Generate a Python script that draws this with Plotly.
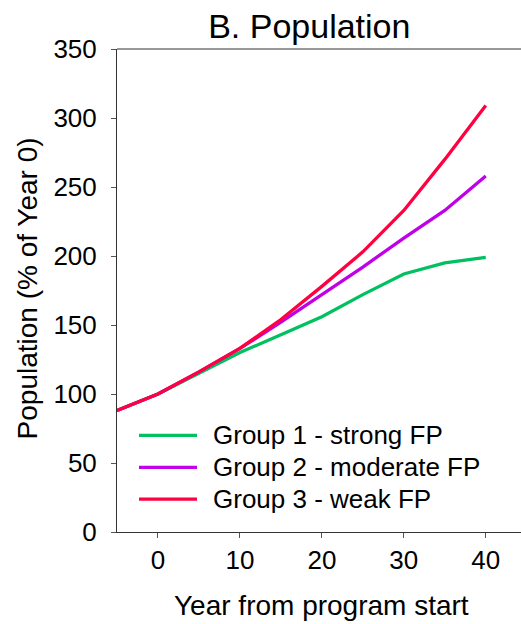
import plotly.graph_objects as go

years = [-5, 0, 5, 10, 15, 20, 25, 30, 35, 40]
group1 = [88, 100, 115, 130, 143, 156, 172, 187, 195, 199]
group2 = [88, 100, 116, 133, 152, 172, 192, 213, 233, 258]
group3 = [88, 100, 116, 133, 154, 178, 203, 233, 270, 309]
names = ["Group 1 - strong FP", "Group 2 - moderate FP", "Group 3 - weak FP"]
colors = ["#00C060", "#C000E8", "#FF0040"]
series = [group1, group2, group3]
y_ticks = [0, 50, 100, 150, 200, 250, 300, 350]
x_ticks = [0, 10, 20, 30, 40]

font_family = "Liberation Sans, Arial, sans-serif"

fig = go.Figure()
for name, vals, col in zip(names, series, colors):
    fig.add_trace(go.Scatter(x=years, y=vals, mode="lines", name=name,
                             line=dict(color=col, width=3.3), showlegend=False))

# manual legend
leg_y = [0.200, 0.134, 0.068]
for name, col, yy in zip(names, colors, leg_y):
    fig.add_shape(type="line", xref="paper", yref="paper",
                  x0=0.0545, x1=0.198, y0=yy, y1=yy,
                  line=dict(color=col, width=3.3))
    fig.add_annotation(xref="paper", yref="paper", x=0.232, y=yy,
                       text=name, showarrow=False, xanchor="left", yanchor="middle",
                       font=dict(size=26, color="black", family=font_family))

# axis titles
fig.add_annotation(xref="paper", yref="paper", x=0.507, y=-0.153,
                   text="Year from program start", showarrow=False,
                   xanchor="center", yanchor="middle",
                   font=dict(size=28, color="black", family=font_family))
fig.add_annotation(xref="paper", yref="paper", x=-0.222, y=0.505,
                   text="Population (% of Year 0)", showarrow=False, textangle=-90,
                   xanchor="center", yanchor="middle",
                   font=dict(size=28, color="black", family=font_family))

fig.update_layout(
    width=521, height=624,
    margin=dict(l=117, r=0, t=49, b=92),
    paper_bgcolor="white", plot_bgcolor="white",
    font=dict(family=font_family, size=26, color="black"),
    title=dict(text="B. Population", x=0.476, xref="paper", xanchor="center",
               y=1 - 26/624, yanchor="middle", font=dict(size=34, color="black")),
)
fig.update_xaxes(range=[-5, 44.3], tickvals=x_ticks, ticks="outside",
                 ticklen=5, tickcolor="#555", showline=True, linecolor="#333",
                 linewidth=1, showgrid=False, zeroline=False,
                 tickfont=dict(size=26))
fig.update_yaxes(range=[0, 350], tickvals=y_ticks,
                 ticks="outside", ticklen=5, tickcolor="#555", showline=True,
                 linecolor="#333", linewidth=1, showgrid=False, zeroline=False,
                 tickfont=dict(size=26), ticklabelstandoff=9)
fig.add_shape(type="line", xref="paper", yref="paper", x0=0, x1=1, y0=1, y1=1,
              line=dict(color="#333", width=1))

fig.write_html("out.html")
